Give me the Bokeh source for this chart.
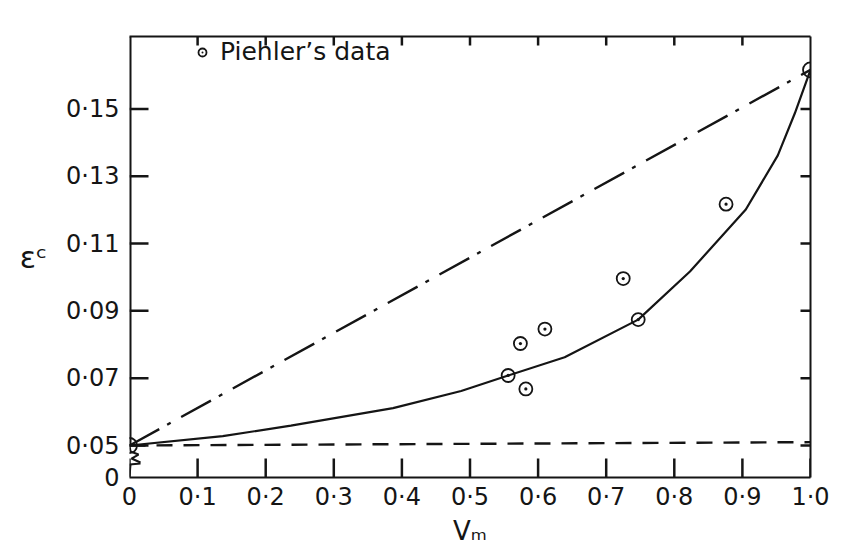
from bokeh.plotting import figure
from bokeh.models import Range1d, LinearAxis, FixedTicker, Legend, LegendItem
from bokeh.embed import file_html
from bokeh.resources import INLINE

# ---------------- data ----------------
# solid curve: composite strain eps^c against matrix volume fraction Vm
curve_vm = [0.0, 0.137, 0.237, 0.387, 0.487, 0.556, 0.639, 0.747, 0.823, 0.905, 0.952, 0.977, 1.0]
curve_ec = [0.050, 0.0528, 0.0559, 0.0611, 0.0662, 0.0708, 0.0762, 0.0874, 0.1017, 0.1201, 0.1362, 0.1487, 0.1616]

# Piehler's data (dotted circles)
piehler_vm = [0.556, 0.574, 0.582, 0.610, 0.725, 0.747, 0.876]
piehler_ec = [0.0708, 0.0803, 0.0668, 0.0846, 0.0996, 0.0874, 0.1217]

# end points (plain circles)
end_vm = [0.0, 1.0]
end_ec = [0.050, 0.1616]

# dash-dot straight line (upper bound) and dashed line (lower bound)
upper_vm = [0.0, 1.0]
upper_ec = [0.050, 0.1616]
lower_vm = [0.0, 1.0]
lower_ec = [0.050, 0.051]

# ticks
x_ticks = [0.0, 0.1, 0.2, 0.3, 0.4, 0.5, 0.6, 0.7, 0.8, 0.9, 1.0]
x_tick_labels = ["0", "0·1", "0·2", "0·3", "0·4", "0·5", "0·6", "0·7", "0·8", "0·9", "1·0"]
y_floor = 0.0405          # broken axis: the level drawn as "0"
y_ticks = [y_floor, 0.05, 0.07, 0.09, 0.11, 0.13, 0.15]
y_tick_labels = ["0", "0·05", "0·07", "0·09", "0·11", "0·13", "0·15"]
top_ticks = [0.1, 0.2, 0.3, 0.4, 0.5, 0.6, 0.7, 0.8, 0.9]
right_ticks = [0.05, 0.07, 0.09, 0.11, 0.13, 0.15]

# ---------------- layout / style ----------------
X_MIN, X_MAX = 0.0, 1.0
Y_TOP = 0.1715
FRAME_W, FRAME_H = 681, 441
LEFT, TOP = 129, 36
W, H = 864, 549
px_x = (X_MAX - X_MIN) / FRAME_W   # data per pixel
px_y = (Y_TOP - y_floor) / FRAME_H
TICK_LONG, TICK_TOP, TICK_RIGHT = 19, 9, 10   # px, pointing inward

INK = "#151515"
FONT = "DejaVu Sans"

p = figure(width=W, height=H, output_backend="svg", toolbar_location=None,
           x_range=Range1d(X_MIN, X_MAX), y_range=Range1d(y_floor, Y_TOP),
           x_axis_location=None, y_axis_location=None,
           min_border_left=LEFT, min_border_top=TOP,
           min_border_right=W - LEFT - FRAME_W, min_border_bottom=H - TOP - FRAME_H)
p.outline_line_color = None
p.xgrid.visible = False
p.ygrid.visible = False


def make_axis(ticks, labels):
    return LinearAxis(ticker=FixedTicker(ticks=ticks),
                      major_label_overrides=dict(zip(ticks, labels)),
                      major_tick_in=0, major_tick_out=0,
                      minor_tick_in=0, minor_tick_out=0,
                      axis_line_width=2, axis_line_color=INK,
                      major_label_text_font=FONT, major_label_text_font_size="24px",
                      major_label_text_color=INK,
                      axis_label_text_font=FONT, axis_label_text_font_style="normal",
                      axis_label_text_color=INK)


bottom = make_axis(x_ticks, x_tick_labels)
bottom.axis_label = "Vₘ"
bottom.major_label_standoff = 5
bottom.axis_label_standoff = 2
bottom.axis_label_text_font_size = "26px"
p.add_layout(bottom, "below")

left = make_axis(y_ticks, y_tick_labels)
left.axis_label = "εᶜ"
left.axis_label_orientation = "horizontal"
left.axis_line_color = None
left.major_label_standoff = 10
left.axis_label_standoff = 16
left.axis_label_text_font_size = "30px"
p.add_layout(left, "left")

top = make_axis(top_ticks, [""] * len(top_ticks))
p.add_layout(top, "above")

right = make_axis(right_ticks, [""] * len(right_ticks))
p.add_layout(right, "right")

# inward tick marks on all four sides, built from the tick values
tick_xs, tick_ys = [], []
for t in x_ticks:
    tick_xs.append([t, t])
    tick_ys.append([y_floor, y_floor + TICK_LONG * px_y])
for t in y_ticks[1:]:
    tick_xs.append([X_MIN, X_MIN + TICK_LONG * px_x])
    tick_ys.append([t, t])
for t in top_ticks:
    tick_xs.append([t, t])
    tick_ys.append([Y_TOP, Y_TOP - TICK_TOP * px_y])
for t in right_ticks:
    tick_xs.append([X_MAX, X_MAX - TICK_RIGHT * px_x])
    tick_ys.append([t, t])
p.multi_line(tick_xs, tick_ys, line_color=INK, line_width=2.5)

# left border above the axis break, and the break symbol
p.line([X_MIN, X_MIN], [0.05, Y_TOP], line_color=INK, line_width=4)
brk_px = [[(0, 0), (1, 6), (9, 9), (2, 13), (11, 17)],
          [(0, 19), (11, 18)],
          [(1, 19), (0, 31)]]
p.multi_line([[X_MIN + a * px_x for a, b in seg] for seg in brk_px],
             [[0.05 - b * px_y for a, b in seg] for seg in brk_px],
             line_color=INK, line_width=2)

# lines
p.line(upper_vm, upper_ec, line_color=INK, line_width=2.4, line_dash="34 9 4 12")
p.line(lower_vm, lower_ec, line_color=INK, line_width=2.4, line_dash="16 11")
p.line(curve_vm, curve_ec, line_color=INK, line_width=2.2)

pts = p.scatter(piehler_vm, piehler_ec, marker="circle_dot", size=13,
                fill_color=None, line_color=INK, line_width=1.8)
p.scatter(end_vm, end_ec, marker="circle", size=15,
          fill_color=None, line_color=INK, line_width=1.8)

legend = Legend(items=[LegendItem(label="Piehler’s data", renderers=[pts])],
                location=(63, 411), padding=0, margin=0, spacing=0,
                border_line_color=None, background_fill_alpha=0,
                label_text_font=FONT, label_text_font_size="25px",
                label_text_color=INK, label_standoff=8,
                glyph_width=20, glyph_height=20)
p.add_layout(legend)

open("out.html", "w").write(file_html(p, INLINE))
